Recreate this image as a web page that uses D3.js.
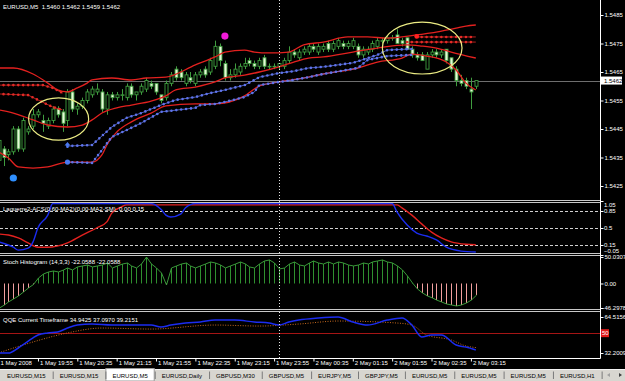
<!DOCTYPE html>
<html>
<head>
<meta charset="utf-8">
<script src="https://cdnjs.cloudflare.com/ajax/libs/d3/7.8.5/d3.min.js"></script>
<style>
  body { margin: 0; background: #000; }
  svg { display: block; }
  text { font-family: "Liberation Sans", Arial, sans-serif; font-size: 6px; white-space: pre; }
</style>
</head>
<body>
<svg id="svg" width="625" height="381"></svg>
<script>
// ---- data ----
const symbol = "EURUSD,M5";

// one row per 5-minute bar, 1 May 19:15 .. 2 May 03:20 : [open, high, low, close]
const candles = [
  [1.5434,1.5442,1.5432,1.5441],[1.5438,1.5439,1.5432,1.5435],[1.5436,1.5438,1.5434,1.5437],[1.5437,1.5446,1.5436,1.5445],
  [1.5445,1.5446,1.5437,1.5438],[1.5438,1.5449,1.5437,1.5448],[1.5444,1.5446,1.5443,1.5445],[1.5446,1.5452,1.5445,1.5450],
  [1.5450,1.5452,1.5449,1.5451],[1.5448,1.5450,1.5444,1.5447],[1.5446,1.5449,1.5445,1.5448],[1.5448,1.5453,1.5447,1.5452],
  [1.5452,1.5453,1.5449,1.5450],[1.5451,1.5452,1.5444,1.5447],[1.5448,1.5459,1.5446,1.5458],[1.5458,1.5459,1.5451,1.5452],
  [1.5452,1.5454,1.5450,1.5453],[1.5453,1.5456,1.5452,1.5455],[1.5455,1.5459,1.5454,1.5458],[1.5457,1.5460,1.5456,1.5459],
  [1.5458,1.5461,1.5457,1.5459],[1.5458,1.5459,1.5451,1.5452],[1.5452,1.5458,1.5450,1.5457],[1.5457,1.5458,1.5455,1.5456],
  [1.5456,1.5458,1.5455,1.5457],[1.5457,1.5459,1.5455,1.5457],[1.5456,1.5461,1.5455,1.5460],[1.5460,1.5461,1.5456,1.5457],
  [1.5457,1.5458,1.5455,1.5458],[1.5458,1.5461,1.5457,1.5460],[1.5459,1.5463,1.5458,1.5462],[1.5461,1.5462,1.5459,1.5460],
  [1.5461,1.5461,1.5457,1.5458],[1.5457,1.5457,1.5454,1.5455],[1.5456,1.5462,1.5455,1.5461],[1.5461,1.5465,1.5460,1.5464],
  [1.5466,1.5467,1.5462,1.5463],[1.5465,1.5466,1.5462,1.5463],[1.5461,1.5465,1.5460,1.5464],[1.5463,1.5465,1.5461,1.5462],
  [1.5461,1.5465,1.5460,1.5464],[1.5464,1.5466,1.5463,1.5465],[1.5466,1.5467,1.5463,1.5464],[1.5465,1.5470,1.5464,1.5469],
  [1.5467,1.5476,1.5466,1.5474],[1.5474,1.5475,1.5467,1.5469],[1.5468,1.5469,1.5462,1.5463],[1.5463,1.5466,1.5462,1.5464],
  [1.5464,1.5468,1.5463,1.5466],[1.5465,1.5468,1.5464,1.5467],[1.5467,1.5470,1.5466,1.5468],[1.5469,1.5470,1.5467,1.5468],
  [1.5468,1.5469,1.5466,1.5467],[1.5467,1.5470,1.5466,1.5469],[1.5470,1.5471,1.5466,1.5467],[1.5467,1.5468,1.5466,1.5467],
  [1.5467,1.5468,1.5466,1.5467],[1.5467,1.5468,1.5466,1.5468],[1.5467,1.5470,1.5466,1.5469],[1.5469,1.5474,1.5468,1.5472],
  [1.5472,1.5473,1.5470,1.5471],[1.5470,1.5473,1.5469,1.5472],[1.5472,1.5474,1.5471,1.5473],[1.5472,1.5475,1.5471,1.5474],
  [1.5474,1.5475,1.5472,1.5473],[1.5472,1.5475,1.5471,1.5474],[1.5473,1.5475,1.5472,1.5474],[1.5475,1.5476,1.5472,1.5473],
  [1.5473,1.5476,1.5472,1.5475],[1.5474,1.5477,1.5473,1.5476],[1.5475,1.5476,1.5473,1.5474],[1.5474,1.5476,1.5473,1.5475],
  [1.5474,1.5477,1.5473,1.5476],[1.5474,1.5475,1.5470,1.5471],[1.5471,1.5474,1.5470,1.5473],[1.5472,1.5474,1.5471,1.5473],
  [1.5473,1.5476,1.5472,1.5475],[1.5474,1.5477,1.5473,1.5476],[1.5476,1.5477,1.5475,1.5476],[1.5476,1.5478,1.5475,1.5477],
  [1.5477,1.5478,1.5476,1.5477],[1.5478,1.5480,1.5475,1.5475],[1.5476,1.5477,1.5474,1.5475],[1.5477,1.5477,1.5473,1.5473],
  [1.5473,1.5474,1.5470,1.5471],[1.5471,1.5472,1.5469,1.5470],[1.5471,1.5472,1.5469,1.5469],[1.5466,1.5472,1.5466,1.5471],
  [1.5471,1.5473,1.5470,1.5472],[1.5472,1.5473,1.5470,1.5471],[1.5471,1.5473,1.5470,1.5472],[1.5473,1.5473,1.5468,1.5469],
  [1.5470,1.5470,1.5465,1.5466],[1.5466,1.5467,1.5460,1.5462],[1.5462,1.5464,1.5460,1.5461],[1.5462,1.5463,1.5459,1.5460],
  [1.5459,1.5463,1.5452,1.5458],[1.5460,1.5462,1.5459,1.5462]
];

// envelope lines, [bar, price]
const upperBand = [[0,1.54664],[3,1.54664],[7,1.54643],[10,1.54611],[12,1.54587],[14,1.54580],[16,1.54594],[18,1.54611],[19,1.54622],
  [23,1.54629],[27,1.54622],[30,1.54629],[34,1.54632],[40,1.54675],[44,1.54703],[46,1.54720],[50,1.54727],[52,1.54720],
  [55,1.54717],[59,1.54720],[62,1.54745],[66,1.54755],[71,1.54773],[75,1.54773],[79,1.54769],[82,1.54773],[85,1.54780],
  [88,1.54787],[91,1.54797],[93,1.54804],[95,1.54811],[97,1.54815]];
const middleBand = [[0,1.54517],[3,1.54506],[7,1.54482],[10,1.54464],[14,1.54457],[17,1.54464],[19,1.54482],[21,1.54506],
  [24,1.54524],[27,1.54534],[31,1.54548],[34,1.54566],[36,1.54587],[40,1.54597],[44,1.54615],[46,1.54629],[50,1.54639],
  [53,1.54650],[57,1.54668],[60,1.54685],[63,1.54699],[66,1.54703],[72,1.54720],[77,1.54734],[83,1.54745],[86,1.54741],
  [89,1.54734],[92,1.54720],[97,1.54699]];
const lowerBand = [[0,1.54369],[2,1.54348],[4,1.54317],[7,1.54313],[10,1.54317],[14,1.54334],[19,1.54334],[21,1.54359],
  [22,1.54394],[24,1.54439],[27,1.54475],[31,1.54506],[34,1.54531],[40,1.54538],[44,1.54538],[50,1.54566],[53,1.54601],
  [57,1.54615],[63,1.54632],[66,1.54643],[73,1.54664],[77,1.54685],[82,1.54699],[84,1.54713],[87,1.54706],[91,1.54685],
  [93,1.54657],[95,1.54611],[97,1.54587]];

// trailing stop dots, [bar, price]
const buyStopUpper = [[14,1.54390],[19,1.54394],[23,1.54457],[26,1.54489],[29,1.54506],[33,1.54534],[36,1.54552],[40,1.54562],
  [43,1.54576],[46,1.54587],[50,1.54604],[52,1.54622],[53,1.54632],[57,1.54646],[60,1.54653],[63,1.54664],[66,1.54668],
  [72,1.54682],[77,1.54710],[79,1.54727],[84,1.54731]];
const buyStopLower = [[14,1.54334],[19,1.54331],[21,1.54376],[23,1.54422],[26,1.54446],[29,1.54471],[33,1.54510],[40,1.54524],
  [41,1.54534],[44,1.54538],[46,1.54545],[50,1.54562],[52,1.54580],[53,1.54604],[57,1.54615],[60,1.54622],[63,1.54632],
  [66,1.54643],[73,1.54664],[75,1.54692],[79,1.54706],[84,1.54710]];
const sellStopUpperA = [[0,1.54604],[9,1.54604],[11,1.54594],[13,1.54576]];
const sellStopLowerA = [[0,1.54573],[6,1.54569],[8,1.54552],[11,1.54527],[13,1.54517]];
const sellStopUpperB = [[85,1.54773],[97,1.54773]];
const sellStopLowerB = [[83,1.54755],[97,1.54755]];

// signal markers, [bar, price]
const bigBlueDots = [[3,1.54278]];
const magentaDots = [[46,1.54776]];
const buyArrows = [[14,1.54390]];
const buyDots = [[14,1.54334]];
const sellDots = [[85,1.54775]];

// hand-drawn ellipses: [centre bar, centre price, half width in bars, half height in price]
const ellipses = [[12.2,1.54485,6.1,0.00074],[86.1,1.54734,8.1,0.00091]];

const priceTicks = [1.5425,1.5435,1.5445,1.5455,1.5465,1.5475,1.5485];

// Laguerre, [bar, value]
const lagBlue = [[0,0.21],[3,0.10],[4,0.04],[6,0.08],[7,0.21],[8,0.50],[10,0.76],[11,1],[31,1],[33,0.88],[34,0.76],[35,0.72],
  [37,0.78],[38,0.91],[40,1],[80,1],[81,0.82],[83,0.56],[85,0.39],[87,0.33],[89,0.25],[91,0.10],[94,0.02],[97,0]];
const lagRed = [[0,0.37],[2,0.35],[4,0.29],[6,0.19],[8,0.10],[10,0.10],[14,0.19],[17,0.35],[20,0.50],[22,0.62],[23,0.80],
  [25,0.93],[26,0.97],[81,0.97],[82,0.91],[84,0.76],[86,0.58],[88,0.41],[90,0.29],[92,0.21],[95,0.16],[97,0.15]];
const lagLevels = [0.85,0.5,0.15];
const lagLabels = [1.05,0.85,0.5,0.15,-0.05];

// Stoch histogram, one value per bar
const stochHist = [-46.3,-40.6,-34.9,-29.3,-23.6,-16.1,-8.5,-1.9,10.4,17.9,21.7,23.6,21.7,25.5,29.3,25.5,31.2,33.1,34.9,31.2,
  33.1,34.9,38.7,29.3,33.1,36.8,38.7,33.1,29.3,36.8,50.03,36.8,29.3,19.8,-2.8,29.3,33.1,36.8,38.7,33.1,29.3,33.1,36.8,40.6,
  38.7,34.9,29.3,33.1,36.8,40.6,36.8,31.2,29.3,36.8,42.5,44.4,38.7,27.4,29.3,36.8,40.6,34.9,33.1,38.7,42.5,38.7,36.8,40.6,
  36.8,40.6,38.7,34.9,33.1,34.9,38.7,36.8,40.6,42.5,44.4,40.6,38.7,33.1,25.5,14.2,0.9,-10.4,-17.9,-23.6,-27.4,-31.2,-34.9,
  -38.7,-40.6,-42.5,-40.6,-36.8,-31.2,-22.06];
const stochLabels = [50.0307, 0, -46.2978];

// QQE, [bar, value]
const qqeRsi = [[0,32.2],[2,32.2],[4,36.7],[7,45.7],[8,48.4],[10,50.2],[12,51.1],[14,54.6],[16,57.3],[19,58.2],[23,57.3],[27,57.3],
  [31,57.3],[33,55.5],[35,57.3],[38,59.1],[41,60.0],[44,61.8],[48,61.8],[52,60.0],[55,59.1],[57,57.3],[59,60.0],[61,61.8],
  [65,63.6],[69,64.5],[72,60.0],[75,57.3],[79,61.8],[82,63.6],[84,57.3],[86,46.6],[88,48.4],[90,48.4],[93,39.4],[95,37.5],[97,34.94]];
const qqeTrail = [[0,32.3],[7,42.1],[14,50.2],[21,54.6],[31,53.7],[44,57.3],[53,56.4],[61,58.2],[69,60.9],[81,59.1],[84,57.3],
  [87,48.4],[92,43.9],[95,38.5],[97,37.1]];
const qqeLevel = 50;
const qqeLabels = [64.5156, 32.2009];

const timeTicks = [0,8,16,24,32,40,48,56,64,72,80,88,96];
const timeLabels = ["1 May 2008","1 May 19:55","1 May 20:35","1 May 21:15","1 May 21:55","1 May 22:35","1 May 23:15",
  "1 May 23:55","2 May 00:35","2 May 01:15","2 May 01:55","2 May 02:35","2 May 03:15"];
const dayBreak = 57;

const tabs = ["EURUSD,M15","EURUSD,M15","EURUSD,M5","EURUSD,Daily","GBPUSD,M30","GBPUSD,M5","EURJPY,M5","GBPJPY,M5",
  "EURUSD,M5","EURUSD,M5","EURUSD,M5","EURUSD,H1"];
const activeTab = 2;

// ---- layout ----
const axisX = 600;
const panels = { main: [0, 200], lag: [202, 254], stoch: [256, 310], qqe: [312, 358] };

const x = d3.scaleLinear().domain([0, 97]).range([-1.4, 475.8]);
const yPrice = d3.scaleLinear().domain([1.5425, 1.5485]).range([186, 15]);
const yLag = d3.scaleLinear().domain([-0.05, 1.05]).range([254.5, 201]);
const yStoch = d3.scaleLinear().domain([-46.2978, 50.0307]).range([308, 257]);
const yQqe = d3.scaleLinear().domain([32.2009, 64.5156]).range([353, 317]);

const svg = d3.select("#svg");
svg.append("rect").attr("width", 625).attr("height", 381).attr("fill", "#000");

const defs = svg.append("defs");
Object.entries(panels).forEach(([k, [t, b]]) => {
  defs.append("clipPath").attr("id", "clip-" + k)
    .append("rect").attr("x", 0).attr("y", t).attr("width", axisX).attr("height", b - t);
});

function layer(name) {
  return svg.append("g").attr("clip-path", `url(#clip-${name})`);
}

function seriesLine(scale, curve) {
  return d3.line().x(d => x(d[0])).y(d => scale(d[1])).curve(curve || d3.curveMonotoneX);
}

function dottedLine(g, data, color) {
  const path = seriesLine(yPrice, d3.curveLinear)(data);
  g.append("path").attr("d", path).attr("fill", "none").attr("stroke", color).attr("stroke-width", 0.8);
  g.append("path").attr("d", path).attr("fill", "none").attr("stroke", color)
    .attr("stroke-width", 2.6).attr("stroke-linecap", "round").attr("stroke-dasharray", "0 4.92");
}

// ---- main panel ----
const main = layer("main");

// last price line
const lastClose = candles[candles.length - 1][3];
main.append("line").attr("x1", 0).attr("x2", axisX)
  .attr("y1", Math.round(yPrice(lastClose)) + 0.5).attr("y2", Math.round(yPrice(lastClose)) + 0.5)
  .attr("stroke", "#6e6e6e");

// candles
const cx = i => Math.round(x(i)) + 0.5;
main.selectAll("line.wick").data(candles).join("line").attr("class", "wick")
  .attr("x1", (d, i) => cx(i)).attr("x2", (d, i) => cx(i))
  .attr("y1", d => yPrice(d[1])).attr("y2", d => yPrice(d[2]))
  .attr("stroke", "#3f9d3f").attr("stroke-width", 1);
main.selectAll("rect.body").data(candles).join("rect").attr("class", "body")
  .attr("x", (d, i) => cx(i) - 1.5).attr("width", 3)
  .attr("y", d => yPrice(Math.max(d[0], d[3])))
  .attr("height", d => Math.max(0.6, Math.abs(yPrice(d[0]) - yPrice(d[3]))))
  .attr("fill", d => d[3] < d[0] ? "#e4f7d6" : "#000")
  .attr("stroke", "#3f9d3f").attr("stroke-width", 0.9);

// envelopes
[upperBand, middleBand, lowerBand].forEach(band => {
  main.append("path").attr("d", seriesLine(yPrice)(band))
    .attr("fill", "none").attr("stroke", "#e3211f").attr("stroke-width", 1.3);
});

// trailing stops
dottedLine(main, buyStopUpper, "#5f74ea");
dottedLine(main, buyStopLower, "#5f74ea");
dottedLine(main, sellStopUpperA, "#e32a26");
dottedLine(main, sellStopLowerA, "#e32a26");
dottedLine(main, sellStopUpperB, "#e32a26");
dottedLine(main, sellStopLowerB, "#e32a26");

// markers
main.selectAll("circle.big").data(bigBlueDots).join("circle")
  .attr("cx", d => x(d[0])).attr("cy", d => yPrice(d[1])).attr("r", 3.6).attr("fill", "#2f8fff");
main.selectAll("circle.mag").data(magentaDots).join("circle")
  .attr("cx", d => x(d[0])).attr("cy", d => yPrice(d[1])).attr("r", 3.6).attr("fill", "#f01ad8");
main.selectAll("circle.buy").data(buyDots).join("circle")
  .attr("cx", d => x(d[0])).attr("cy", d => yPrice(d[1])).attr("r", 2.6).attr("fill", "#4a78f0");
main.selectAll("circle.sell").data(sellDots).join("circle")
  .attr("cx", d => x(d[0])).attr("cy", d => yPrice(d[1])).attr("r", 2.4).attr("fill", "#ff2020");
main.selectAll("path.arrow").data(buyArrows).join("path")
  .attr("d", d => {
    const ax = x(d[0]), ay = yPrice(d[1]);
    return `M${ax},${ay - 4}L${ax + 3},${ay - 0.5}L${ax + 1},${ay - 0.5}L${ax + 1},${ay + 2}L${ax - 1},${ay + 2}L${ax - 1},${ay - 0.5}L${ax - 3},${ay - 0.5}Z`;
  })
  .attr("fill", "#4a78f0");

// annotations
main.selectAll("ellipse").data(ellipses).join("ellipse")
  .attr("cx", d => x(d[0])).attr("cy", d => yPrice(d[1]))
  .attr("rx", d => x(d[0] + d[2]) - x(d[0]))
  .attr("ry", d => yPrice(d[1] - d[3]) - yPrice(d[1]))
  .attr("fill", "none").attr("stroke", "#ecec84").attr("stroke-width", 1.2);

// ---- Laguerre ----
const lag = layer("lag");
lagLevels.forEach(v => {
  lag.append("line").attr("x1", 0).attr("x2", axisX)
    .attr("y1", Math.round(yLag(v)) + 0.5).attr("y2", Math.round(yLag(v)) + 0.5)
    .attr("stroke", "#d0d0d0").attr("stroke-dasharray", "3 2");
});
lag.append("path").attr("d", seriesLine(yLag)(lagRed)).attr("fill", "none").attr("stroke", "#e3211f").attr("stroke-width", 1.4);
lag.append("path").attr("d", seriesLine(yLag)(lagBlue)).attr("fill", "none").attr("stroke", "#1b2cf0").attr("stroke-width", 1.4);

// ---- Stoch histogram ----
const st = layer("stoch");
st.selectAll("line.hist").data(stochHist).join("line")
  .attr("x1", (d, i) => cx(i)).attr("x2", (d, i) => cx(i))
  .attr("y1", yStoch(0)).attr("y2", d => yStoch(d))
  .attr("stroke", d => d >= 0 ? "#2f8f2f" : "#f2a0a0").attr("stroke-width", 1);
st.append("path").attr("d", d3.line().x((d, i) => cx(i)).y(d => yStoch(d))(stochHist))
  .attr("fill", "none").attr("stroke", "#3a9a3a").attr("stroke-width", 1);

// ---- QQE ----
const q = layer("qqe");
q.append("line").attr("x1", 0).attr("x2", axisX)
  .attr("y1", Math.round(yQqe(qqeLevel)) + 0.5).attr("y2", Math.round(yQqe(qqeLevel)) + 0.5)
  .attr("stroke", "#a51515");
q.append("path").attr("d", seriesLine(yQqe)(qqeTrail)).attr("fill", "none")
  .attr("stroke", "#c86a1e").attr("stroke-width", 1).attr("stroke-dasharray", "1 1.5");
q.append("path").attr("d", seriesLine(yQqe)(qqeRsi)).attr("fill", "none").attr("stroke", "#1b2cf0").attr("stroke-width", 1.5);

// ---- frame ----
const frame = svg.append("g").attr("stroke", "#c8c8c8").attr("stroke-width", 1);
[200.5, 202.5, 253.5, 255.5, 309.5, 311.5].forEach(y =>
  frame.append("line").attr("x1", 0).attr("x2", axisX).attr("y1", y).attr("y2", y));
frame.append("line").attr("x1", 0).attr("x2", axisX + 0.5).attr("y1", 358.5).attr("y2", 358.5).attr("stroke", "#fff");
frame.append("line").attr("x1", axisX + 0.5).attr("x2", axisX + 0.5).attr("y1", 0).attr("y2", 358.5).attr("stroke", "#fff");

// day separator
svg.append("line").attr("x1", cx(dayBreak)).attr("x2", cx(dayBreak)).attr("y1", 0).attr("y2", 358)
  .attr("stroke", "#e6e6e6").attr("stroke-dasharray", "1 2");

// ---- axes ----
function styleAxis(g) {
  g.select(".domain").remove();
  g.selectAll("line").attr("stroke", "#fff");
  g.selectAll("text").attr("fill", "#fff").style("font-size", "6px")
    .style("font-family", '"Liberation Sans", Arial, sans-serif');
}

svg.append("g").attr("transform", `translate(${axisX + 0.5},0)`)
  .call(d3.axisRight(yPrice).tickValues(priceTicks).tickFormat(d3.format(".4f")).tickSize(3).tickPadding(1))
  .call(styleAxis);

// current price box
const priceBox = svg.append("g").attr("transform", `translate(${axisX + 1},${yPrice(lastClose)})`);
priceBox.append("rect").attr("x", 0).attr("y", -4).attr("width", 21).attr("height", 8).attr("fill", "#fff");
priceBox.append("text").attr("x", 3).attr("dy", "0.35em").attr("fill", "#000").text(d3.format(".4f")(lastClose));

// Laguerre scale labels: extremes sit inside the window, and neighbours are kept 6px apart
const lagLabelY = lagLabels.map(v => yLag(v));
lagLabelY[0] = 204.8;
lagLabelY[4] = 249.2;
for (let k = 1; k < lagLabelY.length; k++) lagLabelY[k] = Math.max(lagLabelY[k], lagLabelY[k - 1] + 6);
for (let k = lagLabelY.length - 2; k >= 0; k--) lagLabelY[k] = Math.min(lagLabelY[k], lagLabelY[k + 1] - 6);
svg.selectAll("text.laglab").data(lagLabels).join("text")
  .attr("x", axisX + 4).attr("y", (d, i) => lagLabelY[i])
  .attr("dy", "0.35em").attr("fill", "#fff").text(d => d3.format(".2~f")(d));
svg.selectAll("line.lagtick").data(lagLabels).join("line")
  .attr("x1", axisX + 0.5).attr("x2", axisX + 3.5)
  .attr("y1", d => Math.round(yLag(d)) + 0.5).attr("y2", d => Math.round(yLag(d)) + 0.5)
  .attr("stroke", "#fff");

const stochAxis = svg.append("g").attr("transform", `translate(${axisX + 0.5},0)`)
  .call(d3.axisRight(yStoch).tickValues(stochLabels)
    .tickFormat(d => d === 0 ? "0.00" : d3.format(".4f")(d)).tickSize(3).tickPadding(1))
  .call(styleAxis);
// the negative extreme is wide: pull it left so it stays inside the window
stochAxis.selectAll("text").filter(d => d < 0).attr("x", 0.5);

svg.append("g").attr("transform", `translate(${axisX + 0.5},0)`)
  .call(d3.axisRight(yQqe).tickValues(qqeLabels).tickFormat(d3.format(".4f")).tickSize(3).tickPadding(1))
  .call(styleAxis);

const qBox = svg.append("g").attr("transform", `translate(${axisX + 1},${yQqe(qqeLevel)})`);
qBox.append("rect").attr("x", 0).attr("y", -4).attr("width", 8).attr("height", 8).attr("fill", "#e01818");
qBox.append("text").attr("x", 1).attr("dy", "0.35em").attr("fill", "#fff").text(qqeLevel);

// time axis
const xAxis = svg.append("g").attr("transform", "translate(0,358.5)")
  .call(d3.axisBottom(x).tickValues(timeTicks).tickFormat((d, i) => timeLabels[i]).tickSize(3))
  .call(styleAxis);
xAxis.selectAll("text").attr("x", 1.5).attr("y", 2).attr("dy", "0.71em").style("text-anchor", "start");

// ---- titles ----
const last = candles[candles.length - 1];
const titles = [
  [7, `${symbol}  ${last.map(d3.format(".4f")).join(" ")}`],
  [209, "Laguerre2-ACS(0.60-MA2)(0.00-MA2-SM)  0.00 0.15"],
  [262, "Stoch Histogram (14,3,3) -22.0588 -22.0588"],
  [320, "QQE Current Timeframe 34.9425 37.0970 39.2151"]
];
svg.selectAll("text.title").data(titles).join("text")
  .attr("x", 3).attr("y", d => d[0]).attr("dy", "0.35em").attr("fill", "#fff").text(d => d[1]);

// ---- tab bar ----
const tabBar = svg.append("g").attr("transform", "translate(0,369)");
tabBar.append("rect").attr("width", 625).attr("height", 12).attr("fill", "#d8d6d0");
tabBar.append("line").attr("x1", 0).attr("x2", 625).attr("y1", 0.5).attr("y2", 0.5).attr("stroke", "#f4f4f4");
let tx = 0;
tabs.forEach((name, i) => {
  const t = tabBar.append("text").attr("y", 6.5).attr("dy", "0.35em").attr("fill", "#000").text(name);
  const w = t.node().getComputedTextLength() + 14;
  if (i === activeTab) {
    tabBar.insert("rect", "text").attr("x", tx + 0.5).attr("y", -0.5).attr("width", w - 1).attr("height", 12.5)
      .attr("fill", "#fff").attr("stroke", "#9a9a9a");
  }
  t.attr("x", tx + 7);
  tx += w;
  tabBar.append("line").attr("x1", tx + 0.5).attr("x2", tx + 0.5).attr("y1", 2.5).attr("y2", 10)
    .attr("stroke", "#7a7a7a");
});
tabBar.append("path").attr("d", "M610,4L610,8L607,6Z").attr("fill", "#a0a0a0");
tabBar.append("path").attr("d", "M619,4L619,8L622,6Z").attr("fill", "#404040");
</script>
</body>
</html>
